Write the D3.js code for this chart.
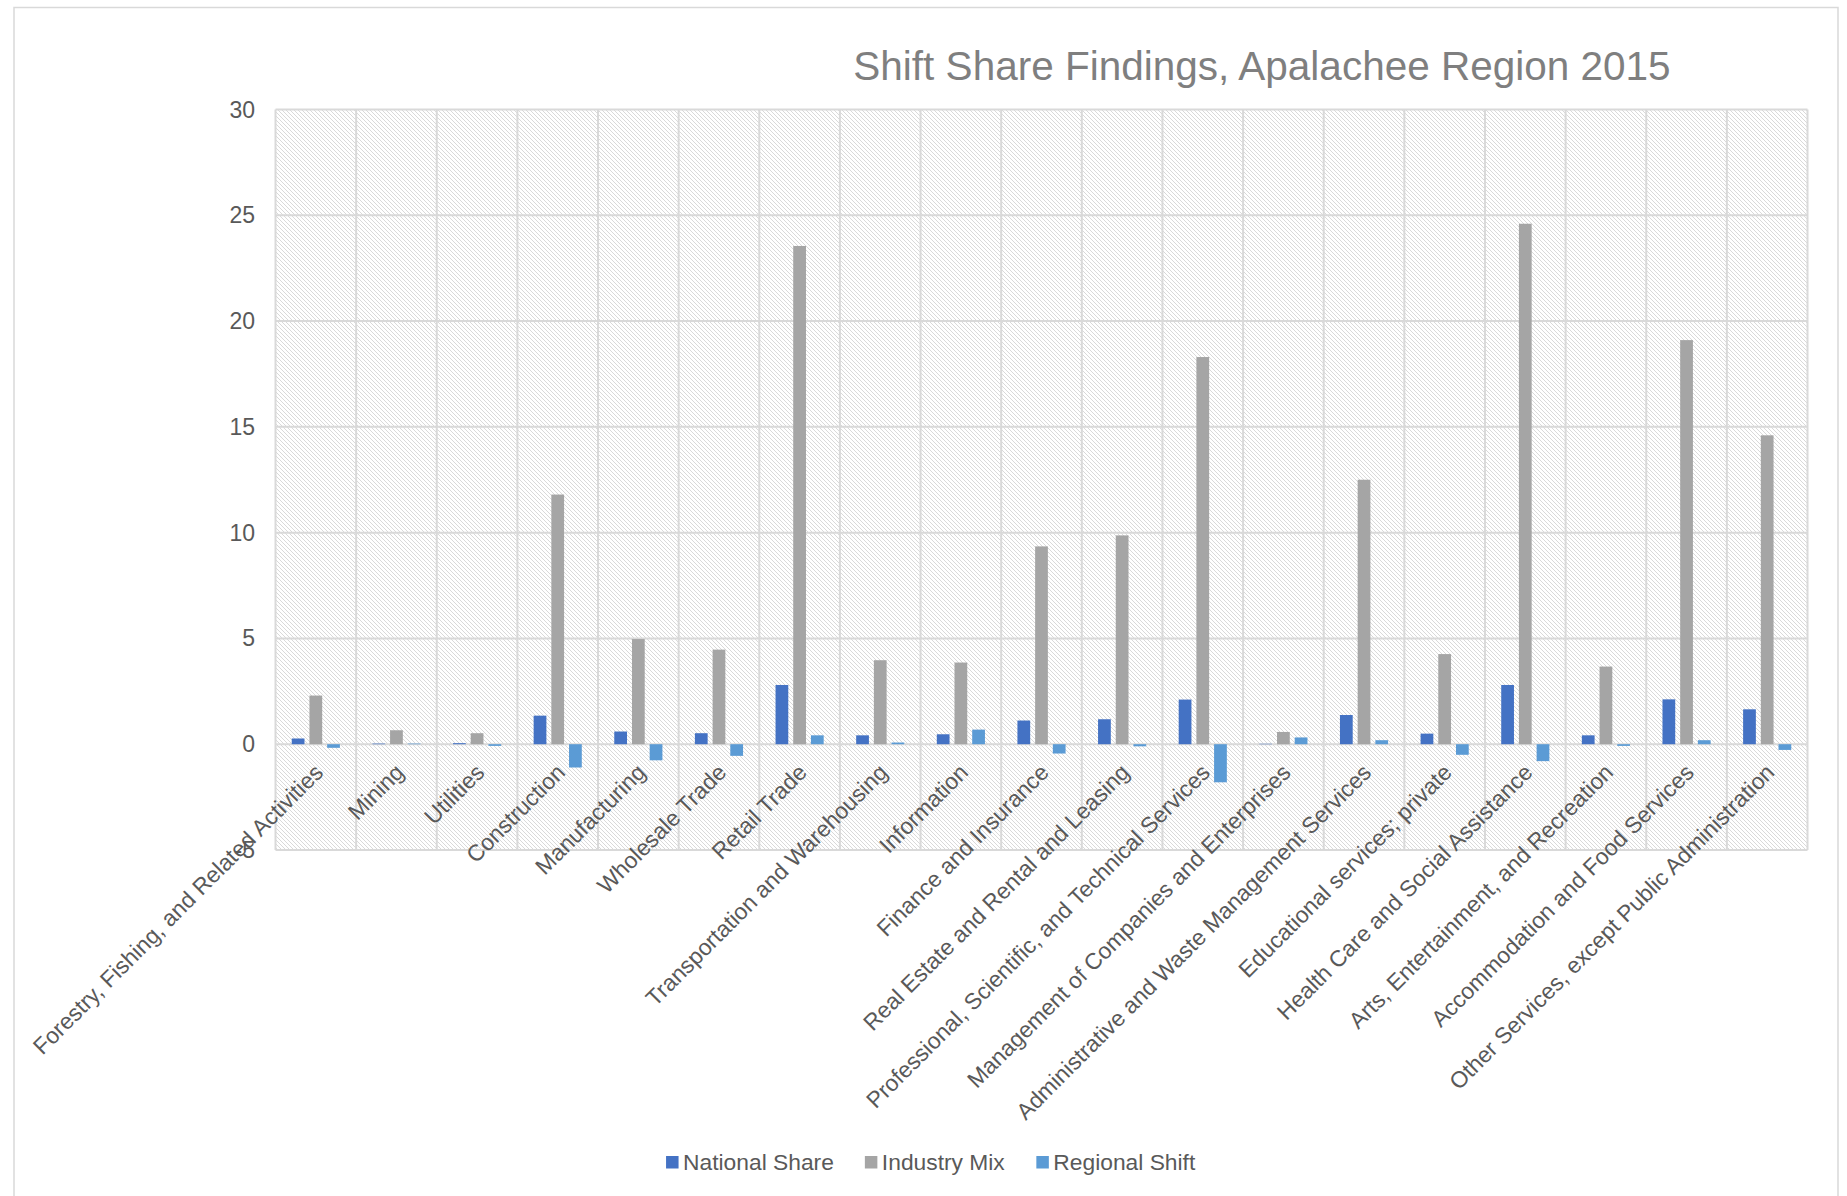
<!DOCTYPE html>
<html>
<head>
<meta charset="utf-8">
<script src="https://cdn.jsdelivr.net/npm/d3@7"></script>
<style>
  html, body { margin: 0; padding: 0; background: #fff; }
  svg { display: block; font-family: "Liberation Sans", Arial, sans-serif; }
</style>
</head>
<body>
<svg id="chart" width="1847" height="1196"></svg>
<script>
const categories = [
  "Forestry, Fishing, and Related Activities",
  "Mining",
  "Utilities",
  "Construction",
  "Manufacturing",
  "Wholesale Trade",
  "Retail Trade",
  "Transportation and Warehousing",
  "Information",
  "Finance and Insurance",
  "Real Estate and Rental and Leasing",
  "Professional, Scientific, and Technical Services",
  "Management of Companies and Enterprises",
  "Administrative and Waste Management Services",
  "Educational services; private",
  "Health Care and Social Assistance",
  "Arts, Entertainment, and Recreation",
  "Accommodation and Food Services",
  "Other Services, except Public Administration"
];
const seriesNames = ["National Share", "Industry Mix", "Regional Shift"];
const nationalShare = [0.27, 0.03, 0.05, 1.35, 0.6, 0.52, 2.8, 0.42, 0.47, 1.12, 1.18, 2.11, 0.02, 1.38, 0.5, 2.8, 0.42, 2.12, 1.65];
const industryMix   = [2.3, 0.66, 0.52, 11.8, 4.97, 4.47, 23.55, 3.97, 3.86, 9.35, 9.87, 18.3, 0.58, 12.5, 4.26, 24.6, 3.67, 19.1, 14.6];
const regionalShift = [-0.17, 0.03, -0.08, -1.1, -0.76, -0.55, 0.42, 0.08, 0.69, -0.44, -0.1, -1.8, 0.32, 0.19, -0.5, -0.8, -0.08, 0.19, -0.27];
const yTicks = [-5, 0, 5, 10, 15, 20, 25, 30];
const title = "Shift Share Findings, Apalachee Region 2015";
const colors = ["#4472C4", "#A5A5A5", "#5B9BD5"];

const seriesValues = [nationalShare, industryMix, regionalShift];
const data = categories.map((c, i) => ({
  cat: c,
  vals: seriesNames.map((s, k) => ({ s, v: seriesValues[k][i] }))
}));

const svg = d3.select("#chart");
const plot = { left: 275.5, right: 1807.5, top: 109.5, bottom: 850 };
const textColor = "#595959";
const gridColor = "#d9d9d9";

// outer chart border
svg.append("rect")
  .attr("x", 14).attr("y", 7.5).attr("width", 1824).attr("height", 1210)
  .attr("fill", "#fff").attr("stroke", gridColor).attr("stroke-width", 1.5);

// hatch pattern
const defs = svg.append("defs");
const pat = defs.append("pattern")
  .attr("id", "hatch").attr("patternUnits", "userSpaceOnUse")
  .attr("width", 4).attr("height", 4);
pat.append("rect").attr("width", 4).attr("height", 4).attr("fill", "#fff");
pat.append("path")
  .attr("d", "M-1,-1 L5,5 M-1,3 L1,5 M3,-1 L5,1")
  .attr("stroke", "#d9d9d9").attr("stroke-width", 1);

const x0 = d3.scaleBand().domain(categories).range([plot.left, plot.right]).padding(0);
const groupW = x0.bandwidth() * 0.72;
const x1 = d3.scaleBand().domain(seriesNames).range([0, groupW]).padding(0.28);
const y = d3.scaleLinear().domain([-5, 30]).range([plot.bottom, plot.top]);

// plot background
svg.append("rect")
  .attr("x", plot.left).attr("y", plot.top)
  .attr("width", plot.right - plot.left).attr("height", plot.bottom - plot.top)
  .attr("fill", "url(#hatch)");

// horizontal gridlines
svg.append("g").selectAll("line").data(yTicks).join("line")
  .attr("x1", plot.left).attr("x2", plot.right)
  .attr("y1", d => y(d)).attr("y2", d => y(d))
  .attr("stroke", gridColor).attr("stroke-width", 2);

// vertical gridlines at category boundaries
const bounds = categories.map(c => x0(c)).concat([plot.right]);
svg.append("g").selectAll("line").data(bounds).join("line")
  .attr("x1", d => d).attr("x2", d => d)
  .attr("y1", plot.top).attr("y2", plot.bottom)
  .attr("stroke", gridColor).attr("stroke-width", 2);

// bars
const groups = svg.append("g").selectAll("g").data(data).join("g")
  .attr("transform", d => `translate(${x0(d.cat) + (x0.bandwidth() - groupW) / 2},0)`);
groups.selectAll("rect").data(d => d.vals).join("rect")
  .attr("x", d => x1(d.s))
  .attr("width", x1.bandwidth())
  .attr("y", d => Math.min(y(d.v), y(0)))
  .attr("height", d => Math.abs(y(d.v) - y(0)))
  .attr("fill", (d, i) => colors[i]);

// y axis labels
svg.append("g").selectAll("text").data(yTicks).join("text")
  .attr("x", 255).attr("y", d => y(d))
  .attr("dy", "0.35em").attr("text-anchor", "end")
  .attr("font-size", 23).attr("fill", textColor)
  .text(d => d);

// x axis labels (rotated, next to zero line)
svg.append("g").selectAll("text").data(categories).join("text")
  .attr("transform", d => `translate(${x0(d) + x0.bandwidth() / 2 + 3},${y(0) + 24}) rotate(-45)`)
  .attr("dy", "0.35em").attr("text-anchor", "end")
  .attr("font-size", 22.8).attr("fill", textColor)
  .text(d => d);

// title
svg.append("text")
  .attr("x", 1262).attr("y", 80)
  .attr("text-anchor", "middle")
  .attr("font-size", 40.5).attr("fill", "#7f7f7f")
  .text(title);

// legend
const legend = svg.append("g");
const items = legend.selectAll("g").data(seriesNames).join("g");
items.append("rect").attr("width", 12.5).attr("height", 12.5).attr("y", -14)
  .attr("fill", (d, i) => colors[i]);
items.append("text").attr("x", 17).attr("y", 0)
  .attr("font-size", 22.8).attr("fill", textColor).text(d => d);
let cx = 0;
const widths = [];
items.each(function () { widths.push(this.getBBox().width); });
items.attr("transform", (d, i) => { const t = cx; cx += widths[i] + 31; return `translate(${t},0)`; });
const totalW = cx - 31;
legend.attr("transform", `translate(${931 - totalW / 2},1170)`);
</script>
</body>
</html>
